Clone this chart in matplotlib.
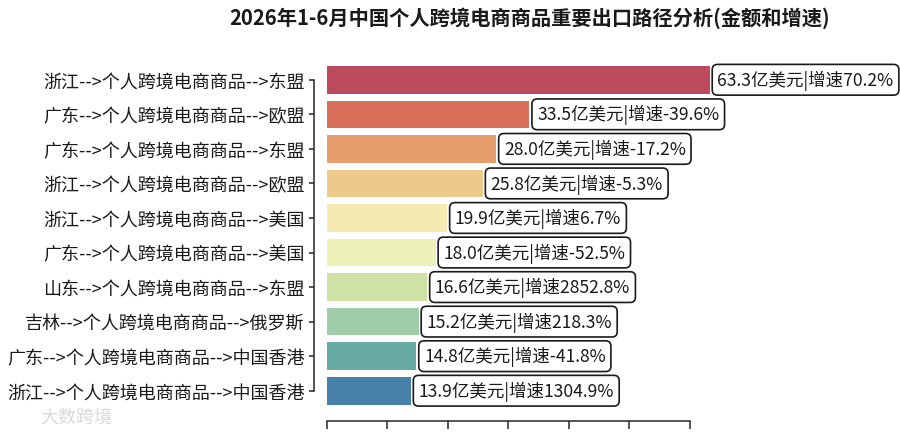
import matplotlib
matplotlib.use("Agg")
import matplotlib.pyplot as plt
import seaborn as sns
import numpy as np

plt.rcParams['font.family'] = ['Noto Sans CJK SC', 'DejaVu Sans']
plt.rcParams['axes.unicode_minus'] = False

title = "2026年1-6月中国个人跨境电商商品重要出口路径分析(金额和增速)"
categories = [
    "浙江-->个人跨境电商商品-->东盟",
    "广东-->个人跨境电商商品-->欧盟",
    "广东-->个人跨境电商商品-->东盟",
    "浙江-->个人跨境电商商品-->欧盟",
    "浙江-->个人跨境电商商品-->美国",
    "广东-->个人跨境电商商品-->美国",
    "山东-->个人跨境电商商品-->东盟",
    "吉林-->个人跨境电商商品-->俄罗斯",
    "广东-->个人跨境电商商品-->中国香港",
    "浙江-->个人跨境电商商品-->中国香港",
]
values = [63.3, 33.5, 28.0, 25.8, 19.9, 18.0, 16.6, 15.2, 14.8, 13.9]
growth = [70.2, -39.6, -17.2, -5.3, 6.7, -52.5, 2852.8, 218.3, -41.8, 1304.9]
xticks = [0, 10, 20, 30, 40, 50, 60]

W, H = 900, 435
fig = plt.figure(figsize=(W / 100, H / 100), dpi=100)
left_px, right_px, top_px, bot_px = 326.7, 733.3, 63.5, 409.0
ax = fig.add_axes([left_px / W, 1 - bot_px / H, (right_px - left_px) / W, (bot_px - top_px) / H])

n = len(values)
colors = [sns.desaturate(c, 0.75) for c in sns.color_palette("Spectral", n)]
y = np.arange(n)
ax.barh(y, values, height=0.8, color=colors)
ax.set_ylim(n - 0.5, -0.5)
ax.set_xlim(0, 67.2)
ax.set_xticks(xticks)
ax.set_yticks(y, categories)

for s in ["top", "right"]:
    ax.spines[s].set_visible(False)
for s in ["left", "bottom"]:
    ax.spines[s].set_position(("outward", 9.1))
    ax.spines[s].set_linewidth(1.1)
    ax.spines[s].set_color("#262626")
ax.spines["left"].set_bounds(0, n - 1)
ax.spines["bottom"].set_bounds(xticks[0], xticks[-1])
ax.tick_params(axis="y", labelsize=13, length=3.5, width=1.1, color="#262626", labelcolor="#1a1a1a", pad=3.5)
ax.tick_params(axis="x", length=6, width=1.1, color="#262626", labelbottom=False)

for yi, v, g in zip(y, values, growth):
    ax.annotate(f"{v:.1f}亿美元|增速{g:.1f}%", xy=(v, yi), xytext=(5.6, 0),
                textcoords="offset points", ha="left", va="center", fontsize=12.6,
                color="#1a1a1a", annotation_clip=False,
                bbox=dict(boxstyle="round,pad=0.3", fc="white", ec="#1a1a1a", lw=1.2))

fig.text(530 / W, 1 - 18 / H, title, ha="center", va="center", fontsize=14.6,
         fontweight="bold", color="#1a1a1a")

fig.text(40 / W, 1 - 418 / H, "大数跨境", ha="left", va="center", fontsize=13,
         color="#d0d0d0", alpha=0.8)

fig.savefig("out.png", dpi=100)
